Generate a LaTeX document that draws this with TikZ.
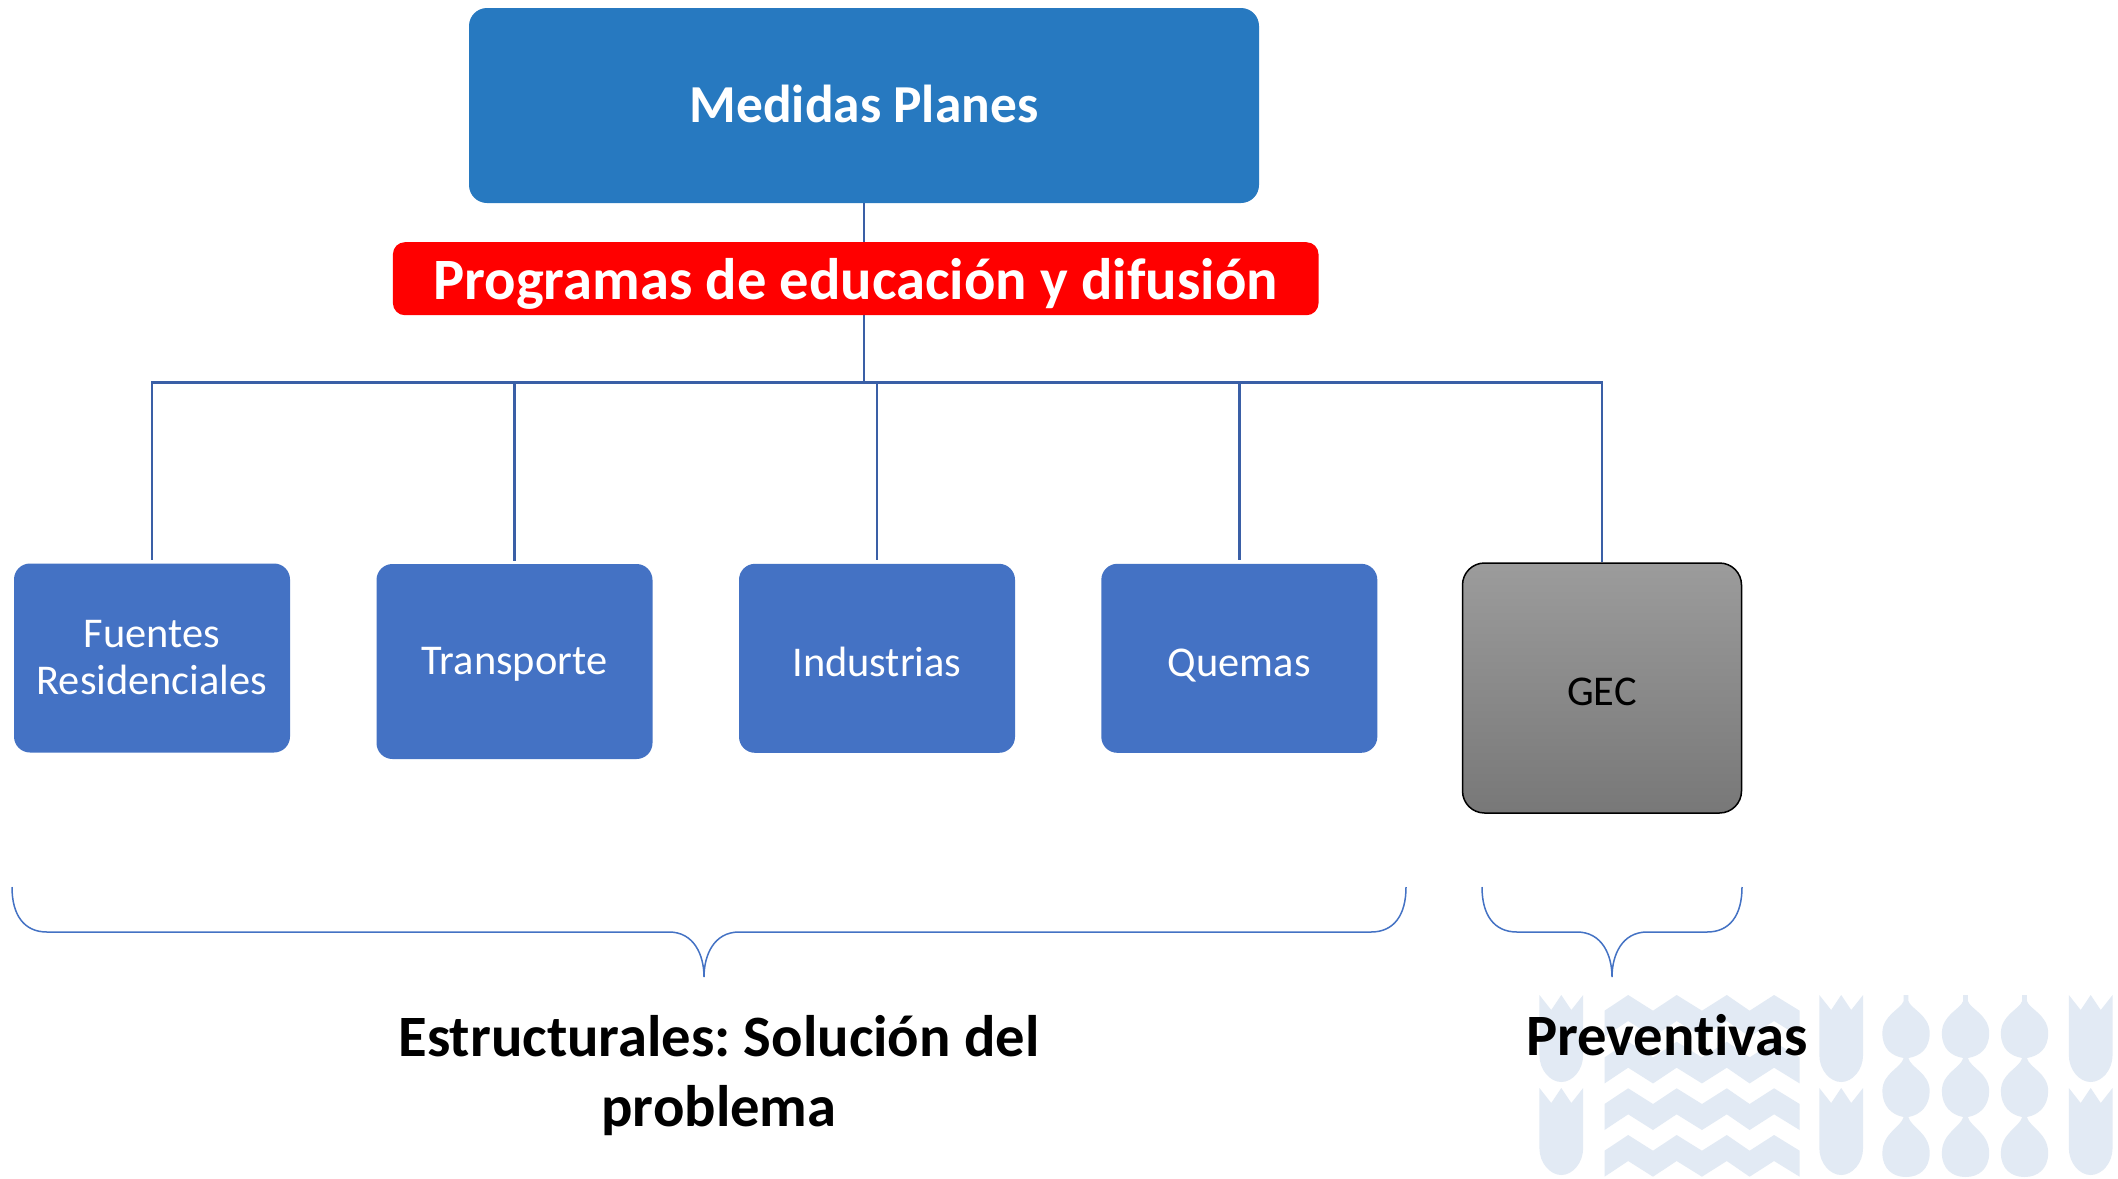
\documentclass[tikz,border=0pt]{standalone}
\usepackage{fontspec}
\setmainfont{Carlito}[Ligatures=NoCommon]
\definecolor{topblue}{HTML}{2779C0}
\definecolor{boxblue}{HTML}{4472C4}
\definecolor{linkblue}{HTML}{3A5FA6}
\definecolor{wmark}{HTML}{E2EAF4}
\tikzset{
  box/.style={draw=none,fill=boxblue,rounded corners=8pt,minimum width=138pt,inner sep=0pt,align=center,text=white,font=\fontsize{21.2}{23.5}\selectfont},
  link/.style={draw=linkblue,line width=1.4pt},
  brace/.style={draw=boxblue,line width=.75pt},
  crown/.pic={\fill[wmark] (0,0) -- (10,15) -- (18.5,0) -- (27,15) -- (37,0) -- (37,60) .. controls (37,75) and (28,87) .. (18.5,87) .. controls (9,87) and (0,75) .. (0,60) -- cycle;},
  wave/.pic={\fill[wmark] (0,15.7) -- (20,0) -- (41,15.7) -- (61,0) -- (82.4,15.7) -- (103.4,0) -- (122.7,15.7) -- (143.4,0) -- (165,15.7) -- (165,41.7) -- (143.4,26) -- (122.7,41.7) -- (103.4,26) -- (82.4,41.7) -- (61,26) -- (41,41.7) -- (20,26) -- (0,41.7) -- cycle;},
  droptop/.pic={\fill[wmark] (-2,0) -- (2,0) -- (2,6) .. controls (4,14) and (20,20) .. (20,38) .. controls (20,54) and (12,61) .. (2,63) -- (-2,63) .. controls (-12,61) and (-20,54) .. (-20,38) .. controls (-20,20) and (-4,14) .. (-2,6) -- cycle;},
  dropmid/.pic={\fill[wmark] (-2,0) -- (2,0) .. controls (4,10) and (20,15) .. (20,33) .. controls (20,48) and (12,57) .. (2,59) -- (-2,59) .. controls (-12,57) and (-20,48) .. (-20,33) .. controls (-20,15) and (-4,10) .. (-2,0) -- cycle;},
  dropend/.pic={\fill[wmark] (-2,0) -- (2,0) .. controls (4,10) and (20,16) .. (20,36) .. controls (20,52) and (11,60) .. (0,60) .. controls (-11,60) and (-20,52) .. (-20,36) .. controls (-20,16) and (-4,10) .. (-2,0) -- cycle;}
}
\begin{document}
\frenchspacing
\begin{tikzpicture}[x=0.5pt,y=-0.5pt]
\useasboundingbox (0,0) rectangle (2118,1178);
\fill[white] (0,0) rectangle (2118,1178);
% watermark
\foreach \cx in {1539.4,1819.3,2068.8} \foreach \cy in {995,1088} \pic[xscale=1.1825] at (\cx,\cy) {crown};
\foreach \wy in {995,1041.7,1088.3,1135} \pic[xscale=1.1825] at (1604.5,\wy) {wave};
\foreach \dx in {1906,1965.5,2024.5} {
  \pic[xscale=1.1825] at (\dx,995) {droptop};
  \pic[xscale=1.1825] at (\dx,1058) {dropmid};
  \pic[xscale=1.1825] at (\dx,1117) {dropend};
}
% boxes
\node[fill=topblue,rounded corners=9pt,minimum width=395pt,minimum height=97.5pt,inner sep=0pt,text=white,text height=16.5pt,text depth=0pt,font=\fontsize{26.7}{30}\bfseries\selectfont] (top) at (864,105.5) {Medidas Planes};
\coordinate (bus) at (864,382.6);
\draw[link] (top.south) -- (bus);
\node[fill=red,rounded corners=6pt,minimum width=462.8pt,minimum height=36.5pt,inner sep=0pt,text=white,text height=20.8pt,text depth=0pt,font=\fontsize{29.3}{32}\bfseries\selectfont] (prog) at (855.7,278.7) {Programas de educación y difusión};
\node[box,minimum height=94.5pt] (fuentes) at (152,658) {Fuentes\\Residenciales};
\node[box,minimum height=97.5pt,text height=12.8pt,text depth=0pt] (transporte) at (514.5,661.5) {Transporte};
\node[box,minimum height=94.5pt,text height=18pt,text depth=0pt] (industrias) at (877,658.3) {Industrias};
\node[box,minimum height=94.5pt,text height=18pt,text depth=0pt] (quemas) at (1239.3,658.3) {Quemas};
\node[draw=black,line width=.75pt,top color=black!39,bottom color=black!53,rounded corners=11pt,minimum width=139.5pt,minimum height=125pt,inner sep=0pt,text=black,text height=17.7pt,text depth=0pt,font=\fontsize{21.2}{23.5}\selectfont] (gec) at (1602,688) {GEC};
\foreach \n in {fuentes,transporte,industrias,quemas}
  \draw[link,shorten >=1.5pt] (bus) -| (\n.north);
\draw[link] (bus) -| (gec.north);
% braces
\draw[brace] (12,887) .. controls (12,915) and (24,932) .. (47,932) -- (669,932) .. controls (694,932) and (704,955) .. (704,977) .. controls (704,955) and (714,932) .. (739,932) -- (1371,932) .. controls (1394,932) and (1406,915) .. (1406,887);
\draw[brace] (1482,887) .. controls (1482,915) and (1494,932) .. (1517,932) -- (1577,932) .. controls (1602,932) and (1612,955) .. (1612,977) .. controls (1612,955) and (1622,932) .. (1647,932) -- (1707,932) .. controls (1730,932) and (1742,915) .. (1742,887);
% labels
\node[inner sep=0pt,align=center,font=\fontsize{29.3}{35}\bfseries\selectfont] (estr) at (719,1076) {Estructurales: Solución del\\problema};
\node[inner sep=0pt,anchor=base,font=\fontsize{29.3}{35}\bfseries\selectfont] (prev) at (1667,1055.7) {Preventivas};
\end{tikzpicture}
\end{document}
